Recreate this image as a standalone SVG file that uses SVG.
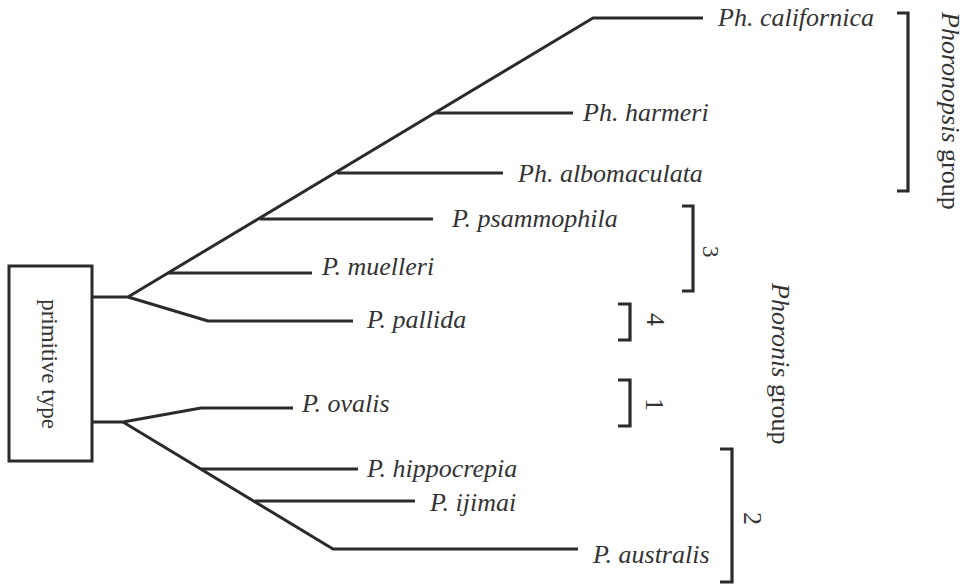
<svg xmlns="http://www.w3.org/2000/svg" width="970" height="586" viewBox="0 0 970 586">
<style>
.ln{fill:none;stroke:#2b2b2b;stroke-width:3;stroke-linejoin:round}
.br{fill:none;stroke:#2b2b2b;stroke-width:3.2}
.sp{font-family:"Liberation Serif","Times New Roman",serif;font-style:italic;font-size:26px;fill:#333}
.rg{font-family:"Liberation Serif","Times New Roman",serif;font-size:26px;fill:#333}
.it{font-style:italic}
</style>
<rect width="970" height="586" fill="#ffffff"/>
<g id="root">
<rect x="9" y="266" width="83" height="195" fill="#fff" stroke="#2b2b2b" stroke-width="3"/>
<text class="rg" style="font-size:23px" text-anchor="middle" transform="translate(42,364) rotate(90)">primitive type</text>
</g>
<g id="connectors">
<path class="ln" d="M92,297 H128 L593,18 H703"/>
<path class="ln" d="M128,297 L208,321 H353"/>
<path class="ln" d="M435,113 H573"/>
<path class="ln" d="M337,173 H503"/>
<path class="ln" d="M260,219 H433"/>
<path class="ln" d="M168,273 H312"/>
<path class="ln" d="M92,422 H123 L201,408 H293"/>
<path class="ln" d="M123,422 L333,549 H578"/>
<path class="ln" d="M201,469 H358"/>
<path class="ln" d="M255,501 H415"/>
</g>
<g id="n-californica"><text class="sp" x="718" y="26">Ph. californica</text></g>
<g id="n-harmeri"><text class="sp" x="583" y="121">Ph. harmeri</text></g>
<g id="n-albomaculata"><text class="sp" x="518" y="182">Ph. albomaculata</text></g>
<g id="n-psammophila"><text class="sp" x="452" y="227">P. psammophila</text></g>
<g id="n-muelleri"><text class="sp" x="322" y="275">P. muelleri</text></g>
<g id="n-pallida"><text class="sp" x="367" y="328">P. pallida</text></g>
<g id="n-ovalis"><text class="sp" x="302" y="412">P. ovalis</text></g>
<g id="n-hippocrepia"><text class="sp" x="367" y="477">P. hippocrepia</text></g>
<g id="n-ijimai"><text class="sp" x="430" y="511">P. ijimai</text></g>
<g id="n-australis"><text class="sp" x="593" y="563">P. australis</text></g>
<g id="brackets">
<path class="br" d="M897,13 H908 V191 H897"/>
<path class="br" d="M682,206 H693 V291 H682"/>
<path class="br" d="M618,304 H630 V340 H618"/>
<path class="br" d="M618,380 H630 V426 H618"/>
<path class="br" d="M720,449 H732 V582 H720"/>
</g>
<g id="group-labels">
<text class="rg" transform="translate(942,12) rotate(90)"><tspan class="it">Phoronopsis</tspan> group</text>
<text class="rg" transform="translate(772,283) rotate(90)"><tspan class="it">Phoronis</tspan> group</text>
<text class="rg" style="font-size:23px" transform="translate(703,246) rotate(90)">3</text>
<text class="rg" transform="translate(647,313) rotate(90)">4</text>
<text class="rg" transform="translate(646,398) rotate(90)">1</text>
<text class="rg" transform="translate(744,512) rotate(90)">2</text>
</g>
</svg>
